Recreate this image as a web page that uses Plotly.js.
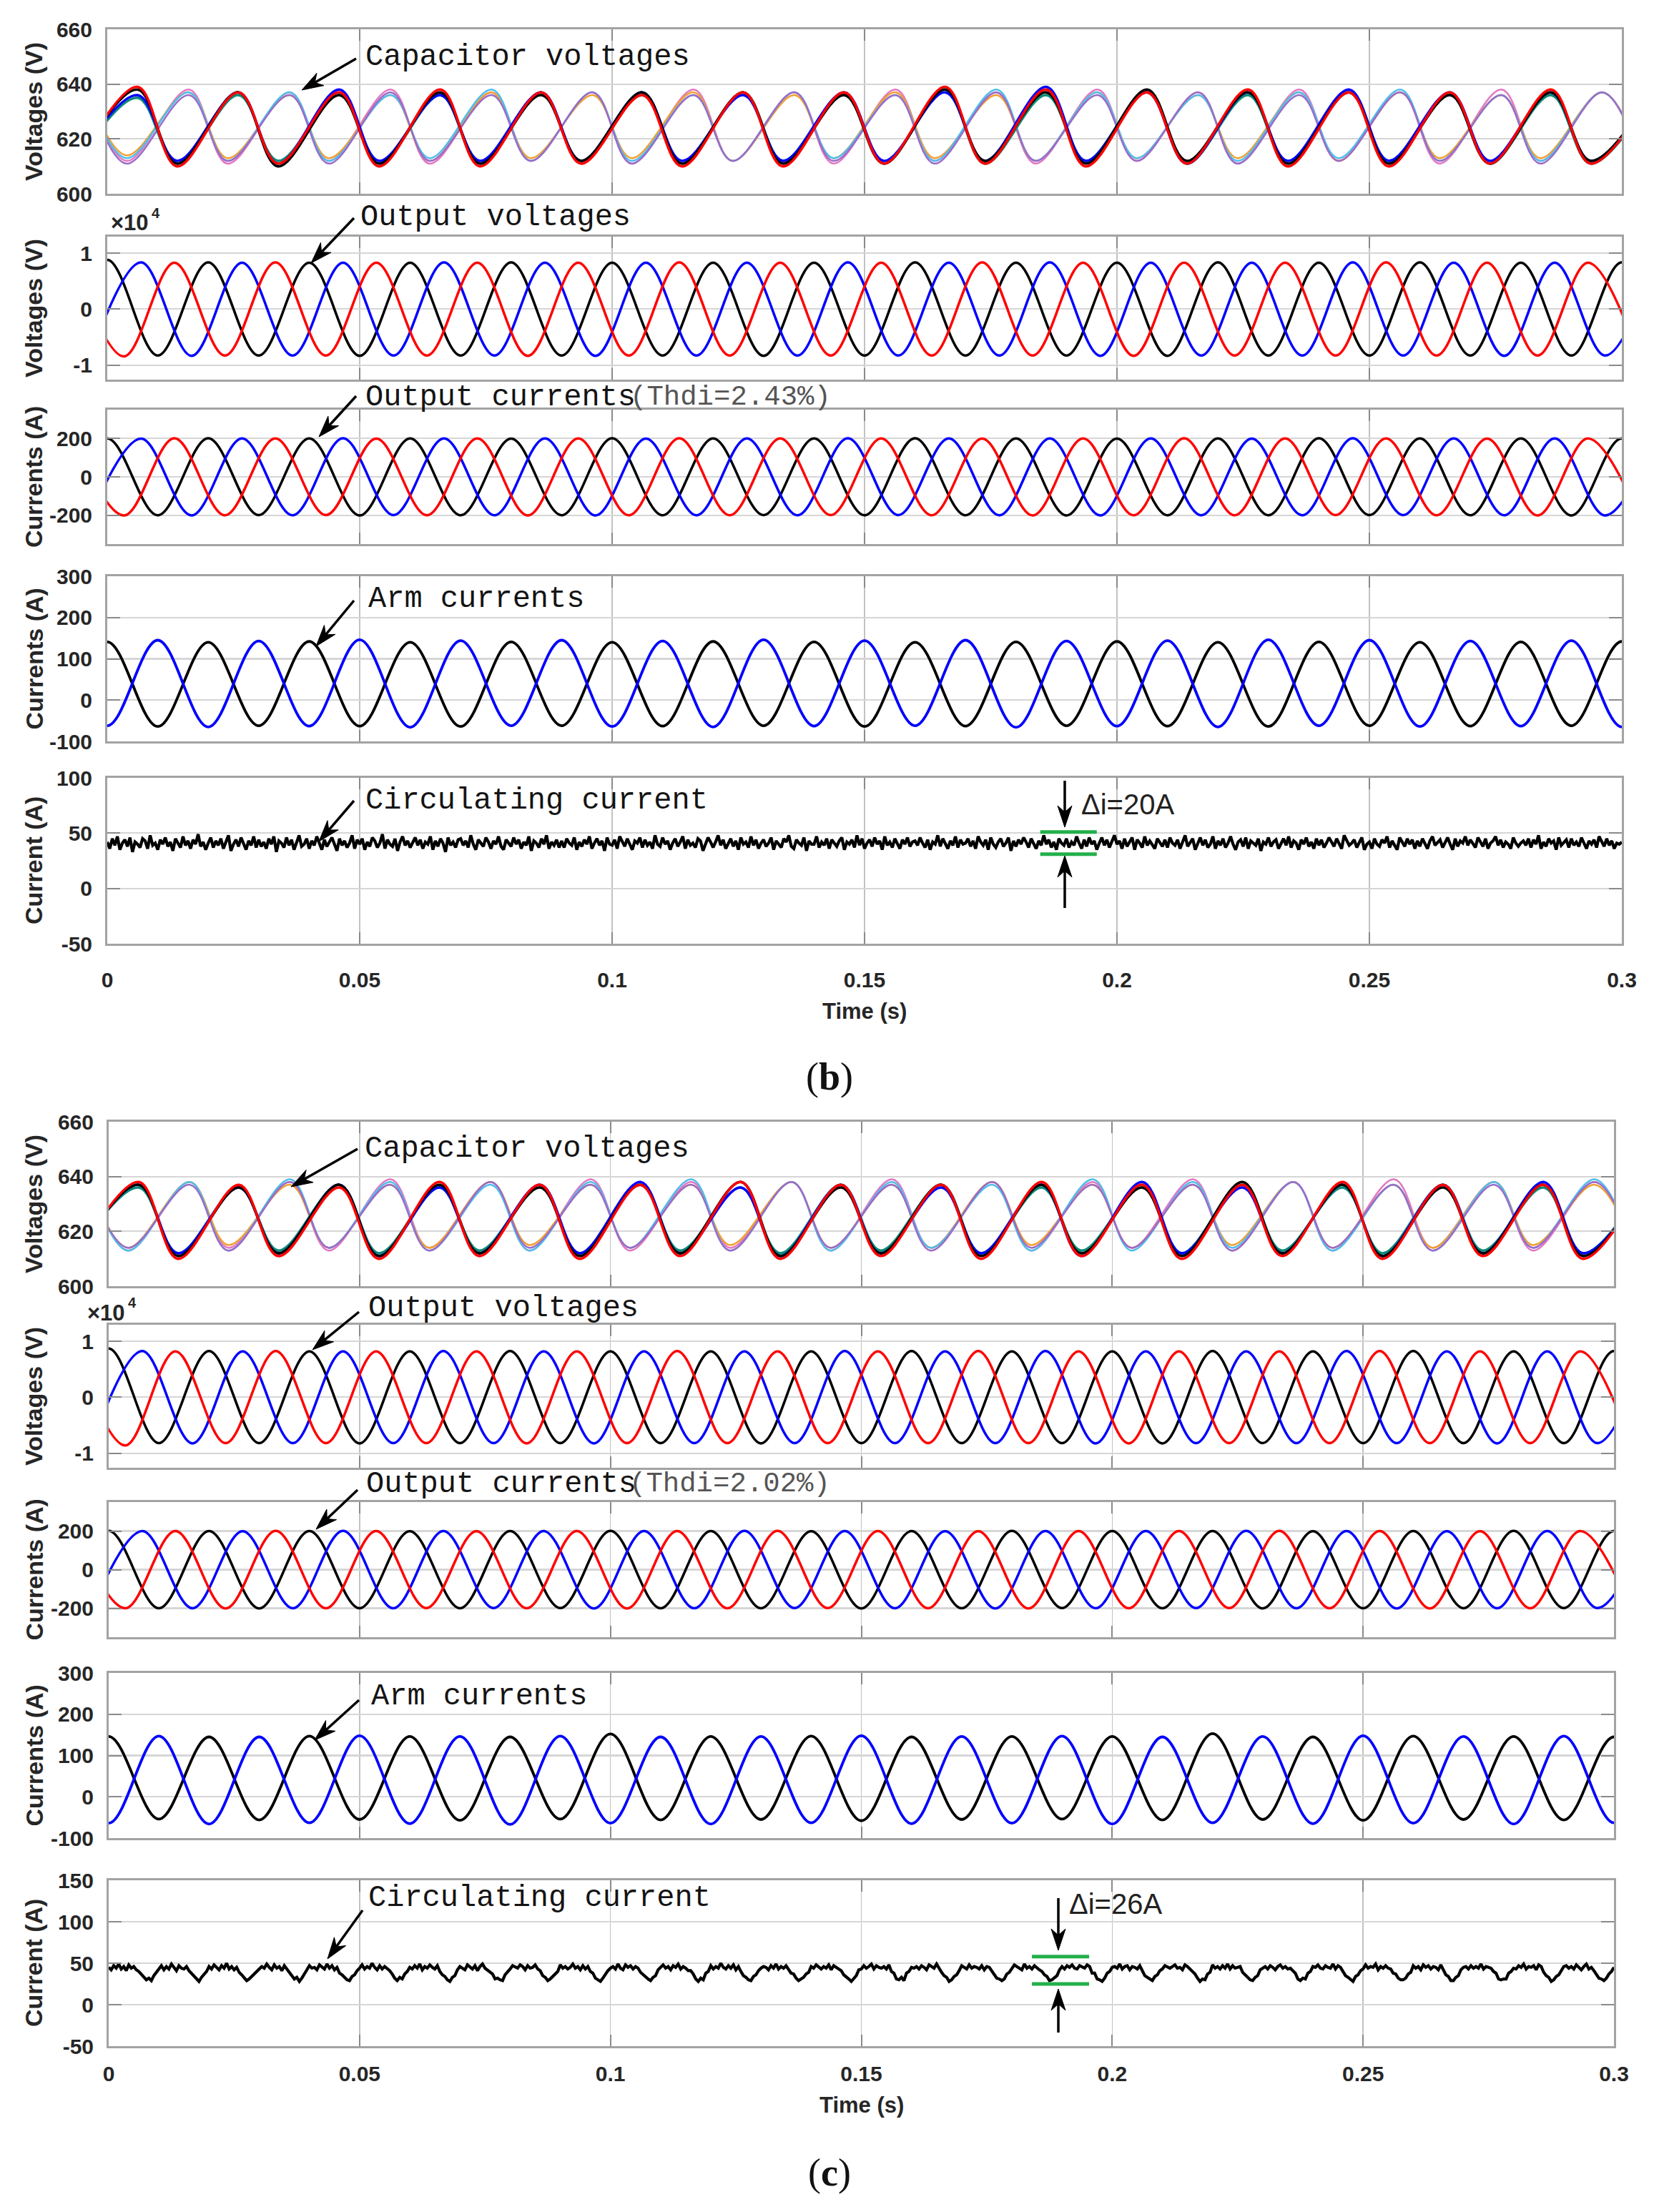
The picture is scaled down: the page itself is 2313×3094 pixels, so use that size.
<!DOCTYPE html>
<html><head><meta charset="utf-8">
<script src="https://cdn.plot.ly/plotly-3.0.1.min.js"></script>
<style>html,body{margin:0;padding:0;background:#fff}</style>
</head><body><div id="chart" style="width:2313px;height:3094px"></div>
<script>
// ---------------- DATA ----------------
// extremum times (s) of the three phases (50 Hz); curves are drawn through
// the peaks/troughs with Plotly's spline line shape
const tBlack = [-0.01,0,0.01,0.02,0.03,0.04,0.05,0.06,0.07,0.08,0.09,0.1,0.11,0.12,0.13,0.14,0.15,0.16,0.17,0.18,0.19,0.2,0.21,0.22,0.23,0.24,0.25,0.26,0.27,0.28,0.29,0.3,0.31];
const tBlue = [-0.0033,0.0067,0.0167,0.0267,0.0367,0.0467,0.0567,0.0667,0.0767,0.0867,0.0967,0.1067,0.1167,0.1267,0.1367,0.1467,0.1567,0.1667,0.1767,0.1867,0.1967,0.2067,0.2167,0.2267,0.2367,0.2467,0.2567,0.2667,0.2767,0.2867,0.2967,0.3067];
const tRed = [-0.0067,0.0033,0.0133,0.0233,0.0333,0.0433,0.0533,0.0633,0.0733,0.0833,0.0933,0.1033,0.1133,0.1233,0.1333,0.1433,0.1533,0.1633,0.1733,0.1833,0.1933,0.2033,0.2133,0.2233,0.2333,0.2433,0.2533,0.2633,0.2733,0.2833,0.2933,0.3033];
// capacitor voltage extremum times: upper-arm group (trough first) and lower-arm group (peak first)
const tDark = [-0.0062,0.006,0.0138,0.026,0.0338,0.046,0.0538,0.066,0.0738,0.086,0.0938,0.106,0.1138,0.126,0.1338,0.146,0.1538,0.166,0.1738,0.186,0.1938,0.206,0.2138,0.226,0.2338,0.246,0.2538,0.266,0.2738,0.286,0.2938,0.306];
const tLight = [-0.0038,0.0038,0.0162,0.0238,0.0362,0.0438,0.0562,0.0638,0.0762,0.0838,0.0962,0.1038,0.1162,0.1238,0.1362,0.1438,0.1562,0.1638,0.1762,0.1838,0.1962,0.2038,0.2162,0.2238,0.2362,0.2438,0.2562,0.2638,0.2762,0.2838,0.2962,0.3038];

// ----- (b) -----
const capB_black = [611,638,611,637,610,636,611,637,611,636,612,637,611,637,611,636,611,638,612,637,611,638,612,637,611,637,611,636,611,637,612,637];
const capB_red = [610,639,610,637,611,637,610,638,610,637,611,636,610,637,610,637,611,639,611,638,610,637,611,638,610,637,610,637,611,638,611,637];
const capB_blue = [612,636,612,637,611,638,612,636,612,637,612,637,612,636,612,637,612,637,612,639,612,637,611,637,612,638,612,637,612,637,612,636];
const capB_teal = [611,635,611,636,612,636,611,636,611,637,612,636,611,637,612,636,611,638,611,636,612,637,611,636,611,637,612,636,611,636,611,636];
const capB_pink = [638,612,638,611,637,612,638,611,637,612,637,611,638,612,637,611,638,612,637,611,638,612,637,611,638,612,637,611,638,612,637,611];
const capB_orange = [637,614,637,613,636,613,636,612,637,613,636,613,637,612,636,613,637,613,636,612,637,613,636,613,637,612,637,613,636,613,637,613];
const capB_cyan = [636,613,637,612,637,612,636,613,638,612,637,612,636,612,637,613,636,612,638,612,637,613,636,612,637,613,638,612,636,612,637,612];
const capB_purple = [637,611,636,612,636,611,637,612,636,612,637,611,636,612,637,612,636,611,637,612,636,612,637,611,636,612,637,612,636,611,637,612];

const vOutB_black = [-8300,8800,-8300,8350,-8300,8300,-8350,8300,-8300,8350,-8300,8300,-8300,8300,-8350,8300,-8300,8350,-8300,8300,-8300,8300,-8350,8350,-8300,8300,-8300,8350,-8300,8300,-8300,8350,-8300];
const vOutB_blue = [-8300,8350,-8350,8300,-8300,8300,-8300,8350,-8300,8300,-8350,8300,-8300,8300,-8300,8350,-8300,8300,-8300,8350,-8350,8300,-8300,8300,-8300,8350,-8300,8300,-8350,8300,-8300,8300];
const vOutB_red = [8300,-8450,8300,-8300,8350,-8300,8300,-8300,8300,-8350,8300,-8300,8350,-8300,8300,-8300,8300,-8300,8350,-8300,8300,-8350,8300,-8300,8300,-8300,8350,-8300,8300,-8300,8300,-8350];

const iOutB_black = [-200,200,-200,201,-199,200,-201,200,-200,199,-200,201,-200,200,-199,200,-200,201,-200,200,-201,199,-200,200,-200,201,-199,200,-200,200,-201,200,-200];
const iOutB_blue = [-200,199,-201,200,-200,201,-199,200,-200,200,-201,199,-200,200,-200,201,-199,200,-200,200,-201,200,-200,199,-200,201,-199,200,-200,200,-201,200];
const iOutB_red = [200,-201,201,-200,200,-199,199,-200,200,-201,200,-200,201,-200,200,-199,200,-200,199,-201,200,-200,201,-200,200,-199,200,-200,199,-201,200,-200];

const iArmB_black = [-63,141,-64,140,-62,142,-63,140,-64,141,-62,140,-63,142,-62,141,-64,140,-63,141,-62,142,-63,140,-64,141,-62,140,-63,141,-62,142,-63];
const iArmB_blue = [144,-62,145,-65,143,-63,146,-66,144,-62,145,-64,143,-65,146,-63,144,-62,145,-66,143,-63,144,-65,146,-62,145,-64,143,-63,144,-65,145];

// circulating current, one value every 0.5 ms from t = 0
const iCircB = [42,36,45,39,47,35,41,44,38,46,33,42,40,37,45,43,36,48,39,41,
35,44,40,46,38,42,34,45,41,37,47,39,43,36,44,40,49,38,42,35,
41,46,37,43,39,45,36,42,48,34,40,44,38,46,41,35,43,39,47,37,
44,38,42,36,45,40,47,33,43,41,37,46,39,44,35,42,48,38,40,45,
36,43,39,47,41,35,44,38,42,46,40,34,45,39,43,37,41,48,36,44,
40,45,35,42,38,46,43,37,41,49,36,44,40,38,45,34,42,47,39,43,
37,41,46,39,44,36,42,40,47,35,43,38,45,41,33,46,39,42,37,44,
45,39,43,37,48,40,35,44,41,38,46,42,36,43,40,47,38,35,44,41,
38,46,40,44,36,42,39,47,34,43,41,37,45,40,48,36,42,39,44,37,
43,37,45,41,39,46,35,42,38,44,40,47,36,41,45,39,43,34,46,40,
39,44,36,47,42,38,45,40,35,43,41,46,37,44,39,42,36,48,40,38,
46,40,43,35,41,45,38,42,47,36,44,39,41,37,45,43,34,40,46,42,
37,42,48,39,44,36,41,45,38,43,35,46,40,42,37,47,39,44,36,41,
44,38,41,46,35,43,40,37,45,42,48,38,36,44,41,39,46,34,43,40,
40,47,37,42,39,45,36,44,41,38,43,46,35,42,40,44,37,48,39,45,
36,41,44,38,46,40,43,35,47,39,42,37,45,41,36,44,40,46,38,42,
43,39,46,41,37,44,35,42,40,48,38,45,41,36,43,39,47,37,44,40,
41,45,38,43,36,47,42,39,44,35,46,40,37,42,45,38,41,46,34,43,
38,44,40,46,42,37,45,41,36,43,39,48,40,44,37,42,35,45,41,39,
45,37,42,39,47,41,36,44,38,46,40,43,35,41,46,39,44,37,42,48,
40,43,36,45,38,42,46,35,44,41,37,47,39,43,40,36,45,42,38,44,
37,46,41,39,44,36,43,48,38,42,45,35,41,46,39,44,37,40,47,36,
43,39,45,37,41,47,40,35,42,44,38,46,36,43,41,39,45,34,42,40,
46,38,42,44,36,40,45,39,47,37,43,41,35,44,40,46,38,42,36,45,
39,44,37,41,46,42,38,45,40,36,48,43,39,41,44,37,42,46,35,40,
42,36,45,40,38,44,41,47,37,43,39,35,46,42,38,45,40,44,36,43,
38,45,41,36,43,47,39,42,44,37,41,46,40,35,45,38,43,41,47,39,
44,40,37,46,42,38,45,36,41,43,47,39,44,37,42,40,36,46,41,38,
41,43,39,45,37,44,40,48,36,42,38,45,41,43,35,46,39,42,44,37,
45,39,42,38,46,41,36,43,40,44,37,47,42,38,45,39,43,36,41,40,42];
const deltaB_t = [0.1848, 0.196];
const deltaB_y = [51, 31];

// ----- (c) -----
const capC_black = [612,637,611,636,612,637,611,637,612,636,611,637,612,638,611,636,612,637,611,637,612,636,611,638,612,637,611,636,612,637,611,637];
const capC_red = [611,638,610,637,611,636,610,638,611,637,610,637,611,638,610,637,611,637,610,638,611,637,610,637,611,638,610,637,611,637,610,638];
const capC_blue = [612,637,612,636,612,637,611,636,612,637,612,638,612,636,611,637,612,636,612,637,611,638,612,636,612,637,611,637,612,638,612,636];
const capC_teal = [613,636,612,636,613,637,612,636,613,636,612,637,613,636,612,637,613,637,612,636,613,636,612,637,613,636,612,637,613,636,612,637];
const capC_pink = [639,613,638,614,638,613,639,614,638,613,639,613,638,614,638,613,639,614,638,613,638,614,639,613,638,613,639,614,638,613,638,614];
const capC_orange = [637,614,638,615,637,614,637,614,638,615,637,614,637,615,638,614,637,614,638,615,637,614,637,615,638,614,637,614,638,615,637,614];
const capC_cyan = [638,613,638,613,639,614,638,613,637,613,638,614,639,613,638,613,638,614,637,613,639,613,638,614,638,613,637,613,638,614,639,613];
const capC_purple = [637,614,637,613,638,614,637,613,638,614,637,614,637,613,638,614,637,613,638,614,637,614,637,613,638,614,637,613,637,614,638,614];

const vOutC_black = [-8200,8700,-8200,8250,-8200,8200,-8250,8200,-8200,8250,-8200,8200,-8200,8200,-8250,8200,-8200,8250,-8200,8200,-8200,8200,-8250,8250,-8200,8200,-8200,8250,-8200,8200,-8200,8250,-8200];
const vOutC_blue = [-8200,8250,-8250,8200,-8200,8200,-8200,8250,-8200,8200,-8250,8200,-8200,8200,-8200,8250,-8200,8200,-8200,8250,-8250,8200,-8200,8200,-8200,8250,-8200,8200,-8250,8200,-8200,8200];
const vOutC_red = [8200,-8600,8200,-8200,8250,-8200,8200,-8200,8200,-8250,8200,-8200,8250,-8200,8200,-8200,8200,-8200,8250,-8200,8200,-8250,8200,-8200,8200,-8200,8250,-8200,8200,-8200,8200,-8250];

const iOutC_black = [-199,201,-200,200,-201,200,-200,199,-200,200,-199,201,-200,200,-200,199,-201,200,-200,201,-199,200,-200,200,-201,199,-200,200,-200,201,-199,200,-200];
const iOutC_blue = [-201,200,-200,199,-200,201,-200,200,-199,200,-201,200,-200,201,-199,200,-200,199,-201,200,-200,200,-199,201,-200,200,-201,199,-200,200,-199,201];
const iOutC_red = [199,-200,200,-201,201,-200,200,-199,199,-200,200,-201,200,-200,201,-199,200,-200,199,-201,200,-200,200,-199,201,-200,200,-201,199,-200,200,-200];

const iArmC_black = [-55,146,-54,145,-56,147,-55,146,-57,145,-54,152,-56,146,-55,147,-58,145,-55,146,-54,146,-56,153,-55,145,-57,147,-55,146,-56,145,-55];
const iArmC_blue = [146,-64,147,-66,145,-63,148,-65,146,-67,147,-64,145,-66,146,-63,148,-65,146,-64,147,-66,145,-63,146,-65,148,-64,146,-66,147,-63,146];

// circulating current, one value every 0.5 ms from t = 0
const iCircC = [45,42,47,44,49,43,46,41,48,44,46,42,40,37,33,30,32,29,35,39,
44,47,42,46,43,49,45,41,47,44,43,46,41,38,34,31,28,33,36,40,
46,43,48,45,42,47,44,50,43,46,42,45,39,36,32,29,31,34,37,41,
43,46,44,49,45,42,48,44,46,41,47,43,40,35,31,33,28,32,38,42,
47,44,45,42,48,46,43,49,44,47,42,45,38,36,33,30,29,34,36,41,
44,48,43,46,44,50,45,42,47,43,46,44,41,37,32,29,33,31,37,40,
45,43,47,44,49,42,46,44,48,45,43,47,40,36,34,30,28,33,35,42,
46,44,42,48,45,43,47,41,46,49,44,42,39,37,31,32,30,29,36,39,
43,47,45,44,48,46,42,47,44,45,48,43,41,35,33,29,31,34,38,40,
48,44,46,43,45,49,44,46,42,47,43,46,40,38,32,30,28,32,37,41,
44,46,43,49,44,42,48,45,47,43,46,44,39,36,34,31,29,33,35,42,
45,48,44,46,42,47,45,49,43,46,44,41,41,37,31,28,32,30,38,40,
47,43,46,44,50,45,43,47,44,48,42,46,40,35,33,30,29,34,36,41,
44,46,45,42,47,44,49,43,46,44,47,43,38,37,32,29,31,33,37,39,
46,44,48,45,43,46,44,48,42,47,45,44,41,36,34,31,28,32,35,42,
43,47,44,46,49,43,47,45,44,46,43,48,40,38,31,30,33,29,38,40,
45,44,46,43,47,45,42,48,46,44,49,43,39,35,33,28,30,34,36,41,
47,45,43,48,44,46,45,43,47,42,46,45,41,37,32,31,29,31,37,39,
44,48,46,44,42,49,44,46,43,47,44,42,40,36,34,29,30,33,35,42,
46,43,47,45,48,44,43,47,45,44,48,46,38,38,31,30,28,32,38,40,
45,46,44,49,43,46,47,42,46,45,43,47,41,35,33,31,29,34,36,41,
43,47,45,44,46,48,44,45,42,48,46,43,40,37,32,28,31,30,37,39,
48,44,46,43,47,44,49,43,47,44,45,46,39,36,34,30,29,33,35,42,
44,46,43,47,45,42,46,48,44,46,43,44,41,38,31,29,32,31,38,40,
46,45,48,44,43,47,45,44,49,43,47,45,40,35,33,31,28,34,36,41,
43,48,44,46,45,49,42,46,44,47,44,43,38,37,32,30,30,32,37,39,
47,44,46,42,48,45,47,43,46,45,42,48,41,36,34,29,29,33,35,42,
45,46,43,47,44,46,44,49,43,46,45,44,40,38,31,30,31,31,38,40,
44,43,47,45,49,43,46,45,47,42,48,46,39,35,33,28,30,34,36,41,
46,47,44,46,43,48,45,42,46,49,43,45,41,37,32,31,29,32,37,40,45];
const deltaC_t = [0.184, 0.1954];
const deltaC_y = [58, 25];

// tick labels
const xTickVals = [0,0.05,0.1,0.15,0.2,0.25,0.3];
const xTickText = ['0','0.05','0.1','0.15','0.2','0.25','0.3'];
const yTickVals = [[600,620,640,660],[-10000,0,10000],[-200,0,200],[-100,0,100,200,300],[-50,0,50,100],
                   [600,620,640,660],[-10000,0,10000],[-200,0,200],[-100,0,100,200,300],[-50,0,50,100,150]];
const yTickText = [['600','620','640','660'],['-1','0','1'],['-200','0','200'],['-100','0','100','200','300'],['-50','0','50','100'],
                   ['600','620','640','660'],['-1','0','1'],['-200','0','200'],['-100','0','100','200','300'],['-50','0','50','100','150']];
const yTitles = ['Voltages (V)','Voltages (V)','Currents (A)','Currents (A)','Current (A)',
                 'Voltages (V)','Voltages (V)','Currents (A)','Currents (A)','Current (A)'];
const labelB = ['Capacitor voltages','Output voltages','Output currents','Arm currents','Circulating current'];
const thdB = '(Thdi=2.43%)', thdC = '(Thdi=2.02%)';
const deltaTextB = 'Δi=20A', deltaTextC = 'Δi=26A';

// ---------------- LAYOUT / STYLE ----------------
const W = 2313, H = 3094;
const box = [
  {x0:150,x1:2268,top:41,bot:271},{x0:150,x1:2268,top:331,bot:531},{x0:150,x1:2268,top:573,bot:761},
  {x0:150,x1:2268,top:806,bot:1037},{x0:150,x1:2268,top:1088,bot:1320},
  {x0:152,x1:2257,top:1569,bot:1799},{x0:152,x1:2257,top:1853,bot:2053},{x0:152,x1:2257,top:2101,bot:2290},
  {x0:152,x1:2257,top:2340,bot:2571},{x0:152,x1:2257,top:2630,bot:2862}
];
const yRanges = [[600,660],[-12600,12950],[-350,350],[-100,300],[-50,100],[600,660],[-12600,12950],[-350,350],[-100,300],[-50,150]];

function ax(k){ return k===1?'':String(k); }
const traces = [];
function wave(x, y, color, width, k){
  traces.push({type:'scatter',mode:'lines',x:x,y:y,xaxis:'x'+ax(k),yaxis:'y'+ax(k),
    line:{color:color,width:width,shape:'spline',smoothing:1},showlegend:false,hoverinfo:'skip'});
}
function noise(y, color, k){
  traces.push({type:'scatter',mode:'lines',x0:0,dx:0.0005,y:y,xaxis:'x'+ax(k),yaxis:'y'+ax(k),
    line:{color:color,width:4.2},showlegend:false,hoverinfo:'skip'});
}
const cLight = {pink:'#e377c2',orange:'#f0a030',cyan:'#4dbeee',purple:'#9a6cc8'};
const cDark = {black:'#000000',red:'#ff0000',blue:'#0000ff',teal:'#0b8a78'};

// (b)
wave(tLight,capB_pink,cLight.pink,2.5,1); wave(tLight,capB_orange,cLight.orange,2.5,1);
wave(tLight,capB_cyan,cLight.cyan,2.5,1); wave(tLight,capB_purple,cLight.purple,2.5,1);
wave(tDark,capB_teal,cDark.teal,3.5,1); wave(tDark,capB_blue,cDark.blue,3.5,1);
wave(tDark,capB_black,cDark.black,3.5,1); wave(tDark,capB_red,cDark.red,3.5,1);
wave(tBlack,vOutB_black,'#000',3.5,2); wave(tBlue,vOutB_blue,'#0000ff',3.5,2); wave(tRed,vOutB_red,'#ff0000',3.5,2);
wave(tBlack,iOutB_black,'#000',3.5,3); wave(tBlue,iOutB_blue,'#0000ff',3.5,3); wave(tRed,iOutB_red,'#ff0000',3.5,3);
wave(tBlack,iArmB_black,'#000',3.8,4); wave(tBlack,iArmB_blue,'#0000ff',3.8,4);
noise(iCircB,'#000',5);
// (c)
wave(tLight,capC_pink,cLight.pink,2.5,6); wave(tLight,capC_orange,cLight.orange,2.5,6);
wave(tLight,capC_cyan,cLight.cyan,2.5,6); wave(tLight,capC_purple,cLight.purple,2.5,6);
wave(tDark,capC_teal,cDark.teal,3.5,6); wave(tDark,capC_blue,cDark.blue,3.5,6);
wave(tDark,capC_black,cDark.black,3.5,6); wave(tDark,capC_red,cDark.red,3.5,6);
wave(tBlack,vOutC_black,'#000',3.5,7); wave(tBlue,vOutC_blue,'#0000ff',3.5,7); wave(tRed,vOutC_red,'#ff0000',3.5,7);
wave(tBlack,iOutC_black,'#000',3.5,8); wave(tBlue,iOutC_blue,'#0000ff',3.5,8); wave(tRed,iOutC_red,'#ff0000',3.5,8);
wave(tBlack,iArmC_black,'#000',3.8,9); wave(tBlack,iArmC_blue,'#0000ff',3.8,9);
noise(iCircC,'#000',10);

const tickFont = {family:'Liberation Sans, Arial, sans-serif',size:30,color:'#262626',weight:'bold'};
const layout = {width:W,height:H,margin:{l:0,r:0,t:0,b:0},paper_bgcolor:'#fff',plot_bgcolor:'#fff',
  showlegend:false,annotations:[],shapes:[]};
for(let k=1;k<=10;k++){
  const b = box[k-1];
  layout['xaxis'+ax(k)] = {domain:[b.x0/W,b.x1/W],anchor:'y'+ax(k),range:[0,0.3],
    tickmode:'array',tickvals:xTickVals,ticktext:xTickText,showticklabels:(k===5||k===10),
    ticks:'inside',ticklen:16,tickwidth:2,tickcolor:'#8a8a8a',
    showgrid:true,gridcolor:'#c2c2c2',gridwidth:1.5,zeroline:false,
    showline:true,mirror:'ticks',linecolor:'#a3a3a3',linewidth:3,
    tickfont:tickFont,ticklabelstandoff:(k===10?10:22),fixedrange:true};
  layout['yaxis'+ax(k)] = {domain:[1-b.bot/H,1-b.top/H],anchor:'x'+ax(k),range:yRanges[k-1],
    tickmode:'array',tickvals:yTickVals[k-1],ticktext:yTickText[k-1],
    ticks:'inside',ticklen:18,tickwidth:2,tickcolor:'#8a8a8a',
    showgrid:true,gridcolor:'#d6d6d6',gridwidth:2.2,zeroline:false,
    showline:true,mirror:'ticks',linecolor:'#a3a3a3',linewidth:3,
    tickfont:tickFont,ticklabelstandoff:12,fixedrange:true};
  layout.annotations.push({xref:'paper',yref:'paper',x:47/W,y:1-(b.top+b.bot)/2/H,textangle:-90,
    text:'<b>'+yTitles[k-1]+'</b>',showarrow:false,xanchor:'center',yanchor:'middle',
    font:{family:'Liberation Sans, Arial, sans-serif',size:34,color:'#262626'}});
}

function txt(text,x,y,font,xanchor){
  layout.annotations.push({xref:'paper',yref:'paper',x:x/W,y:1-y/H,text:text,showarrow:false,
    xanchor:xanchor||'left',yanchor:'middle',font:font});
}
// pointer arrows drawn as shapes (shaft + stealth head), positions in page pixels
function P(x,y){ return (x/W).toFixed(5)+','+(1-y/H).toFixed(5); }
function arrow(hx,hy,tx,ty){
  const dx=hx-tx, dy=hy-ty, len=Math.hypot(dx,dy), ux=dx/len, uy=dy/len, nx=-uy, ny=ux;
  const L=30, hw=10, notch=9;
  const bx=hx-(L-notch)*ux, by=hy-(L-notch)*uy;
  layout.shapes.push({type:'line',xref:'paper',yref:'paper',x0:tx/W,y0:1-ty/H,x1:bx/W,y1:1-by/H,
    line:{color:'#000',width:3.5}});
  const p1x=hx-L*ux+hw*nx, p1y=hy-L*uy+hw*ny, p2x=hx-L*ux-hw*nx, p2y=hy-L*uy-hw*ny;
  layout.shapes.push({type:'path',xref:'paper',yref:'paper',
    path:'M'+P(hx,hy)+' L'+P(p1x,p1y)+' L'+P(bx,by)+' L'+P(p2x,p2y)+' Z',
    fillcolor:'#000',line:{color:'#000',width:1}});
}
const mono = {family:'Liberation Mono, Courier New, monospace',size:42,color:'#141414'};
const monoThd = {family:'Liberation Mono, Courier New, monospace',size:39,color:'#555'};
const sansLbl = {family:'Liberation Sans, Arial, sans-serif',size:40,color:'#222'};
const boldLbl = {family:'Liberation Sans, Arial, sans-serif',size:31,color:'#262626',weight:'bold'};
const expLbl = {family:'Liberation Sans, Arial, sans-serif',size:20,color:'#262626',weight:'bold'};

// (b) labels and arrows
txt(labelB[0],509,80,mono); arrow(422,126,498,82);
txt(labelB[1],502,304,mono); arrow(435,368,495,305);
txt(labelB[2],509,556,mono); txt(thdB,879,556,monoThd); arrow(446,611,498,554);
txt(labelB[3],513,838,mono); arrow(442,904,495,840);
txt(labelB[4],509,1120,mono); arrow(446,1177,495,1120);
txt(deltaTextB,1510,1125,sansLbl); arrow(1489,1157,1489,1092); arrow(1489,1197,1489,1270);
txt('×10',153,312,boldLbl); txt('4',210,298,expLbl);
txt('Time (s)',1209,1415,boldLbl,'center');
txt('(<b>b</b>)',1160,1506,{family:'Liberation Serif, Times New Roman, serif',size:54,color:'#111'},'center');
// (c) labels and arrows
txt(labelB[0],508,1607,mono); arrow(407,1660,500,1607);
txt(labelB[1],513,1830,mono); arrow(437,1888,502,1835);
txt(labelB[2],510,2076,mono); txt(thdC,878,2076,monoThd); arrow(442,2139,500,2084);
txt(labelB[3],517,2373,mono); arrow(440,2434,502,2378);
txt(labelB[4],513,2655,mono); arrow(458,2740,507,2672);
txt(deltaTextC,1493,2663,sansLbl); arrow(1480,2728,1480,2655); arrow(1480,2782,1480,2843);
txt('×10',120,1836,boldLbl); txt('4',177,1822,expLbl);
txt('Time (s)',1205,2944,boldLbl,'center');
txt('(<b>c</b>)',1160,3039,{family:'Liberation Serif, Times New Roman, serif',size:54,color:'#111'},'center');

// green Δi markers
[deltaB_y[0],deltaB_y[1]].forEach(v=>layout.shapes.push({type:'line',xref:'x5',yref:'y5',x0:deltaB_t[0],x1:deltaB_t[1],y0:v,y1:v,line:{color:'#22b04a',width:5}}));
[deltaC_y[0],deltaC_y[1]].forEach(v=>layout.shapes.push({type:'line',xref:'x10',yref:'y10',x0:deltaC_t[0],x1:deltaC_t[1],y0:v,y1:v,line:{color:'#22b04a',width:5}}));

Plotly.newPlot('chart',traces,layout,{staticPlot:true,displayModeBar:false});
</script></body></html>
